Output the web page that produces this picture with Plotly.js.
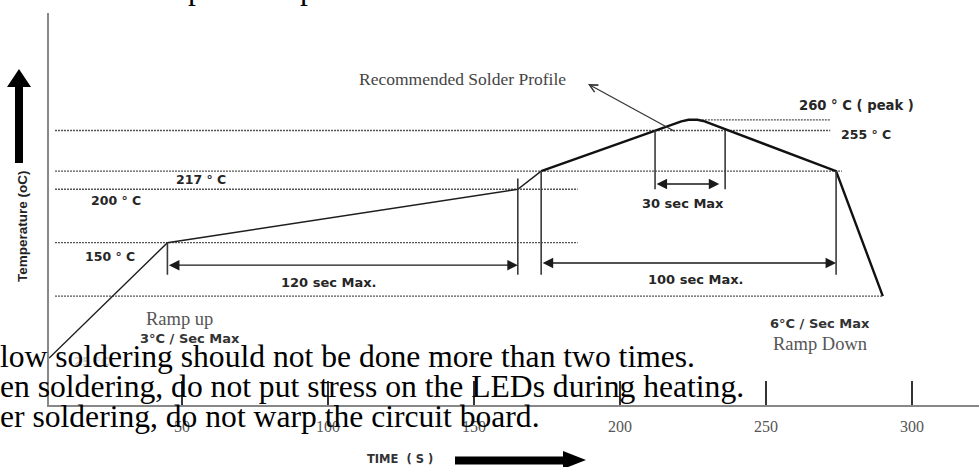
<!DOCTYPE html>
<html><head><meta charset="utf-8">
<script src="https://cdn.plot.ly/plotly-3.0.1.min.js"></script>
<style>html,body{margin:0;padding:0;background:#fff;overflow:hidden;} #chart{width:979px;height:467px;}</style>
</head><body><div id="chart"></div>
<script>
// ---- values ----
const profileTime = [4.5, 45, 165, 173, 221, 223.5, 226.5, 229, 274, 290];
const profileTemp = [42, 150, 200, 217, 263.5, 265, 265, 263.5, 217, 100];
const refLevels = [100, 150, 200, 217, 255, 265];
const refStart  = [6.5, 6.5, 6.5, 6.5, 6.5, 227];
const refEnd    = [290, 185.5, 185.5, 276, 272, 272];
const markTime   = [45, 165, 173, 212, 236, 274];
const markTop    = [150, 210, 217, 255, 255, 217];
const markBottom = [120, 120, 120, 200, 200, 120];
const spanStart = [45, 173, 212];
const spanEnd   = [165, 274, 234];
const spanLevel = [129, 131, 205];
const spanLabels = ['120 sec Max.', '100 sec Max.', '30 sec Max'];
const levelLabels = ['150 ° C', '200 ° C', '217 ° C', '255 ° C', '260 ° C ( peak )'];
const xTicks = [50, 100, 150, 200, 250, 300];
const xTickText = ['50', '100', '150', '200', '250', '300'];
const noteLines = [
  'low soldering should not be done more than two times.',
  'en soldering, do not put stress on the LEDs during heating.',
  'er soldering, do not warp the circuit board.'
];

// ---- layout geometry ----
const W = 979, H = 467, ML = 49, MR = 0, MT = 13, MB = 62;
const PW = W - ML - MR, PH = H - MT - MB;
const XR = [4.45, 322.94], YR = [-1.88, 364.96];
const px = v => (v - ML) / PW;              // pixel x -> paper
const py = v => (H - MB - v) / PH;          // pixel y -> paper
const dx = v => XR[0] + (v - ML) * (XR[1] - XR[0]) / PW;     // pixel x -> data
const dy = v => YR[0] + (H - MB - v) * (YR[1] - YR[0]) / PH; // pixel y -> data

const SANSB = 'DejaVu Sans';
const SERIF = 'Liberation Serif';

function label(text, x, y, font, extra) {
  return Object.assign({
    xref: 'paper', yref: 'paper', x: px(x), y: py(y), text: text,
    showarrow: false, xanchor: 'center', yanchor: 'middle',
    borderwidth: 0, borderpad: 0, font: font
  }, extra || {});
}
const boldFont = (s, c) => ({family: SANSB, size: s, color: c || '#262626', weight: 'bold'});
const serifFont = (s, c) => ({family: SERIF, size: s, color: c || '#4a4a4a'});

// ---- traces ----
const traces = [
  {x: profileTime.slice(0, 4), y: profileTemp.slice(0, 4), mode: 'lines', hoverinfo: 'skip',
   line: {color: '#1e1e1e', width: 1.4}},
  {x: profileTime.slice(3), y: profileTemp.slice(3), mode: 'lines', hoverinfo: 'skip',
   line: {color: '#111', width: 2.4}}
];

// ---- shapes: dotted reference levels and vertical markers ----
const shapes = [];
refLevels.forEach((lv, i) => shapes.push({
  type: 'line', xref: 'x', yref: 'y', x0: refStart[i], x1: refEnd[i], y0: lv, y1: lv,
  line: {color: '#555', width: 1.3, dash: '2px,1px'}, layer: 'below'
}));
markTime.forEach((t, i) => shapes.push({
  type: 'line', xref: 'x', yref: 'y', x0: t, x1: t, y0: markBottom[i], y1: markTop[i],
  line: {color: '#3a3a3a', width: 1.6}
}));
// decorative big arrows (axis direction indicators)
function poly(pts) {
  return 'M' + pts.map(p => px(p[0]).toFixed(5) + ',' + py(p[1]).toFixed(5)).join('L') + 'Z';
}
shapes.push({type: 'path', xref: 'paper', yref: 'paper', fillcolor: '#000', line: {width: 0},
  path: poly([[19, 69], [31, 87], [23, 87], [23, 163], [15, 163], [15, 87], [7, 87]])});
shapes.push({type: 'path', xref: 'paper', yref: 'paper', fillcolor: '#000', line: {width: 0},
  path: poly([[455, 456.5], [563, 456.5], [563, 451], [586, 460], [563, 469], [563, 464.5], [455, 464.5]])});

// ---- annotations ----
const ann = [];
// double arrows for time windows
spanStart.forEach((s, i) => ann.push({
  xref: 'x', yref: 'y', axref: 'x', ayref: 'y', x: spanEnd[i], y: spanLevel[i],
  ax: s, ay: spanLevel[i], text: '', showarrow: true, arrowside: 'end+start',
  arrowhead: 2, startarrowhead: 2, arrowsize: 1.5, startarrowsize: 1.5,
  arrowwidth: 1.4, arrowcolor: '#1a1a1a'
}));
// pointer arrow to profile
ann.push({xref: 'x', yref: 'y', axref: 'x', ayref: 'y',
  x: dx(588), y: dy(84), ax: dx(676), ay: dy(132),
  text: '', showarrow: true, arrowhead: 5, arrowsize: 1.3, arrowwidth: 1.2, arrowcolor: '#333'});

const lvlPos = [[110, 256], [116, 200], [201, 179], [866, 134], [856, 105]];
const lvlSize = [12.5, 12.5, 12.5, 12.5, 13.2];
levelLabels.forEach((t, i) => ann.push(label(t, lvlPos[i][0], lvlPos[i][1], boldFont(lvlSize[i]))));
const spanPos = [[328, 282], [695, 279], [683, 203]];
spanLabels.forEach((t, i) => ann.push(label(t, spanPos[i][0], spanPos[i][1], boldFont(13))));

ann.push(label('Recommended Solder Profile', 462, 79, serifFont(17.5, '#444')));
ann.push(label('Ramp up', 179, 319, serifFont(18.5, '#555')));
ann.push(label('3°C / Sec Max', 190, 338, boldFont(13, '#333')));
ann.push(label('6°C / Sec Max', 820, 323, boldFont(13, '#333')));
ann.push(label('Ramp Down', 820, 344, serifFont(18.5, '#555')));
ann.push(label('25 °C', 92, 362, boldFont(12, '#cfcfcf')));
ann.push(label('Temperature (oC)', 22, 226, {family: 'Liberation Sans', size: 13.5, color: '#222', weight: 'bold'}, {textangle: -90}));
ann.push(label('TIME\u00a0\u00a0(\u00a0S\u00a0)', 400, 459, boldFont(11.5, '#333')));

// overlapping document text
const noteCenters = [356, 386, 417];
noteLines.forEach((t, i) => ann.push(label(t, 0, noteCenters[i], {family: SERIF, size: 31.6, color: '#000'}, {xanchor: 'left'})));
ann.push(label('p', 188, -12, {family: SERIF, size: 31.6, color: '#000'}, {xanchor: 'left'}));
ann.push(label('p', 300, -12, {family: SERIF, size: 31.6, color: '#000'}, {xanchor: 'left'}));

const layout = {
  width: W, height: H, autosize: false,
  margin: {l: ML, r: MR, t: MT, b: MB, pad: 0},
  paper_bgcolor: '#fff', plot_bgcolor: '#fff', showlegend: false,
  xaxis: {range: XR, tickvals: xTicks, ticktext: xTickText, ticks: 'inside', ticklen: 24, tickwidth: 2,
          tickcolor: '#333', showline: true, linecolor: '#888', linewidth: 2, showgrid: false,
          zeroline: false, fixedrange: true, ticklabelstandoff: 6,
          tickfont: {family: SERIF, size: 16, color: '#555'}},
  yaxis: {range: YR, showline: true, linecolor: '#888', linewidth: 2, showgrid: false, zeroline: false,
          showticklabels: false, ticks: '', fixedrange: true},
  shapes: shapes, annotations: ann
};
Plotly.newPlot('chart', traces, layout, {displayModeBar: false, staticPlot: true});
</script></body></html>
